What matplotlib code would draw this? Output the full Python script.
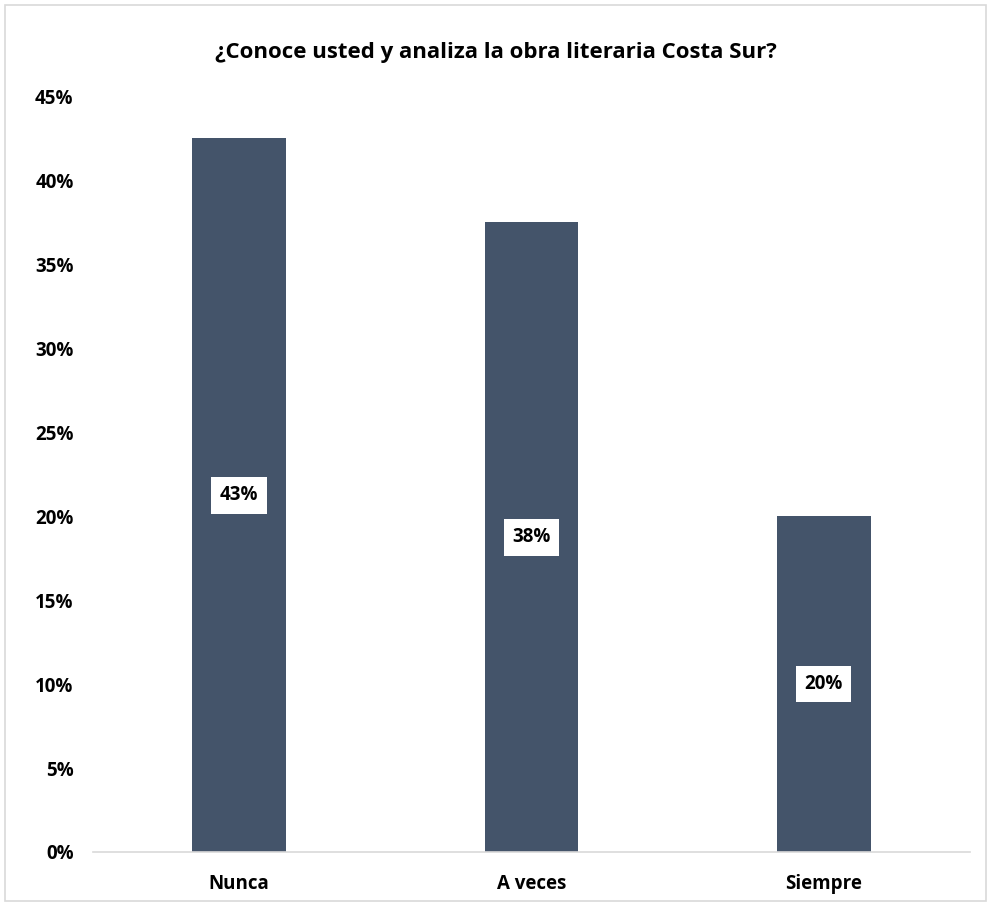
import matplotlib

matplotlib.use("Agg")
import matplotlib.pyplot as plt
from matplotlib.patches import Rectangle

categories = ["Nunca", "A veces", "Siempre"]
values = [0.425, 0.375, 0.20]
labels = ["43%", "38%", "20%"]
yticks = [0, 0.05, 0.10, 0.15, 0.20, 0.25, 0.30, 0.35, 0.40, 0.45]
title = "¿Conoce usted y analiza la obra literaria Costa Sur?"

plt.rcParams["font.family"] = ["Open Sans", "DejaVu Sans"]
plt.rcParams["font.weight"] = "bold"

fig = plt.figure(figsize=(9.91, 9.05), dpi=100)
ax = fig.add_axes([0.0938, 0.0586, 0.885, 0.835])

x = range(len(categories))
ax.bar(x, values, width=0.32, color="#44546A", zorder=2)
for xi, v, lab in zip(x, values, labels):
    ax.text(xi, v / 2, lab, ha="center", va="center", fontsize=13.5, fontweight="bold",
            color="black", bbox=dict(boxstyle="square,pad=0.45", fc="white", ec="none"))

ax.set_xlim(-0.5, len(categories) - 0.5)
ax.set_ylim(0, 0.45)
ax.set_yticks(yticks)
ax.set_yticklabels([f"{t * 100:.0f}%" for t in yticks], fontsize=13.5, fontweight="bold")
ax.set_xticks(list(x))
ax.set_xticklabels(categories, fontsize=13.5, fontweight="bold")
ax.tick_params(axis="both", length=0)
ax.tick_params(axis="y", pad=14)
ax.tick_params(axis="x", pad=16)
for side in ["left", "right", "top"]:
    ax.spines[side].set_visible(False)
ax.spines["bottom"].set_color("#D9D9D9")
ax.spines["bottom"].set_linewidth(1.2)

fig.text(0.5, 0.942, title, ha="center", va="center", fontsize=16, fontweight="bold")
fig.patches.append(Rectangle((0.005, 0.004), 0.99, 0.99, transform=fig.transFigure,
                             fill=False, ec="#D9D9D9", lw=1.2))

fig.savefig("out.png", dpi=100)
